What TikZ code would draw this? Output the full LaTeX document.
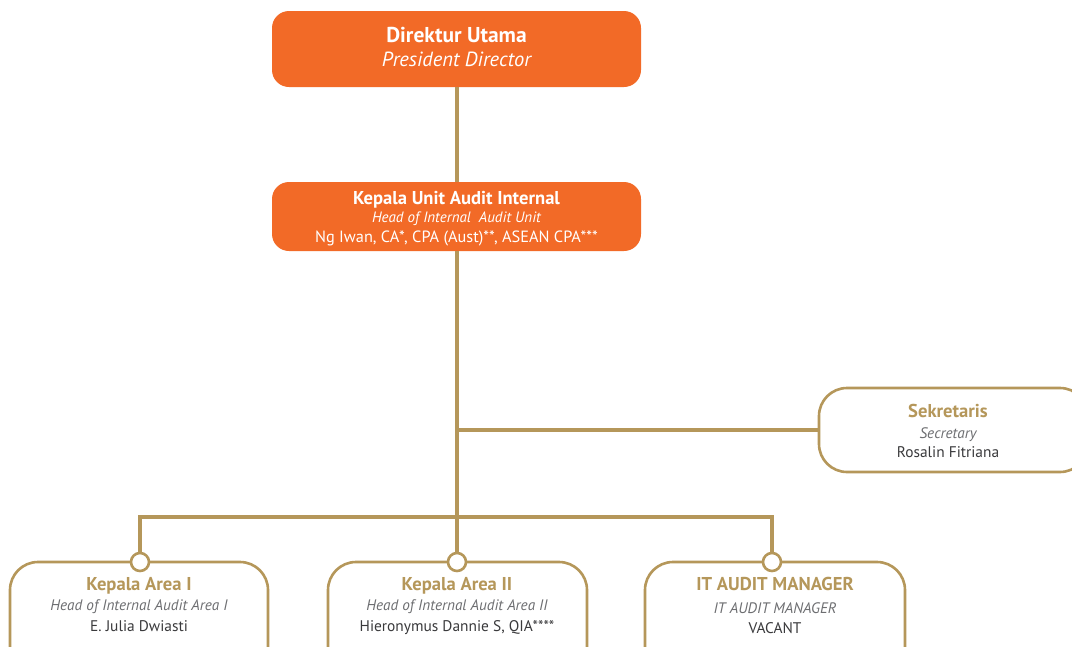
\documentclass[tikz,border=0pt]{standalone}
\usepackage{fontspec}
\setmainfont{PT Sans}
\definecolor{orgorange}{HTML}{F26A27}
\definecolor{orggold}{HTML}{B5975A}
\definecolor{orggray}{HTML}{6D6E71}
\definecolor{orgdark}{HTML}{3A3A3C}
\tikzset{
  x=1pt, y=-1pt,
  headbox/.style={fill=orgorange, rounded corners=17pt},
  unitbox/.style={draw=orggold, line width=2.6pt, fill=white, rounded corners=28pt},
  link/.style={draw=orggold, line width=4.6pt},
  joint/.style={circle, draw=orggold, line width=2.6pt, fill=white, minimum size=18pt, inner sep=0pt},
  ttl/.style={font=\bfseries\fontsize{18.6}{20}\selectfont, text=orggold, anchor=base},
  sub/.style={font=\itshape\fontsize{15.2}{17}\selectfont, text=orggray, anchor=base},
  nm/.style={font=\fontsize{15.4}{17}\selectfont, text=orgdark, anchor=base},
  whitettl/.style={font=\bfseries\fontsize{18.6}{20}\selectfont, text=white, anchor=base},
}
\begin{document}
\begin{tikzpicture}
\useasboundingbox (0,0) rectangle (1072,646);
\clip (0,0) rectangle (1072,646);

% junction points of the connector tree
\coordinate (busL) at (140,517);
\coordinate (busR) at (772,517);
\coordinate (busM) at (457,517);
\coordinate (secJ) at (457,430);

% orange boxes
\fill[headbox] (272,11) rectangle (641,87);
\fill[headbox] (272,182) rectangle (641,251);

% connectors
\draw[link] (457,87) -- (457,182);
\draw[link] (457,251) -- (busM);
\draw[link] (secJ) -- (819,430);
\draw[link] (140,519) -- (busL) -- (busR) -- (772,519);
\draw[link] (busL) -- (140,562);
\draw[link] (busM) -- (457,562);
\draw[link] (busR) -- (772,562);

% secretary
\draw[unitbox] (819,388) rectangle (1088,472);
\node[ttl] (sekT) at (948,417) {Sekretaris};
\node[sub] (sekS) at (948,438) {Secretary};
\node[nm]  (sekN) at (948,457) {Rosalin Fitriana};

% bottom boxes
\draw[unitbox] (10,562) rectangle (268,690);
\draw[unitbox] (328,562) rectangle (587,690);
\draw[unitbox] (645,562) rectangle (905,690);

\node[joint] (j1) at (140,562) {};
\node[joint] (j2) at (457,562) {};
\node[joint] (j3) at (772,562) {};

% texts in the orange boxes
\node[font=\bfseries\fontsize{21.5}{23}\selectfont, text=white, anchor=base] (dirT) at (456.5,42) {Direktur Utama};
\node[font=\itshape\fontsize{20.5}{22}\selectfont, text=white, anchor=base] (dirS) at (456.5,66) {President Director};

\node[whitettl] (headT) at (456.5,204) {Kepala Unit Audit Internal};
\node[font=\itshape\fontsize{15}{17}\selectfont, text=white, anchor=base] (headS) at (456.5,222) {Head of Internal\ \ Audit Unit};
\node[font=\fontsize{16.3}{18}\selectfont, text=white, anchor=base] (headN) at (456.5,242) {Ng Iwan, CA*, CPA (Aust)**, ASEAN CPA***};

% texts in the bottom boxes
\node[ttl] (a1T) at (139,590) {Kepala Area I};
\node[sub] (a1S) at (139,610) {Head of Internal Audit Area I};
\node[nm]  (a1N) at (139,631) {E. Julia Dwiasti};

\node[ttl] (a2T) at (457,590) {Kepala Area II};
\node[sub] (a2S) at (457,610) {Head of Internal Audit Area II};
\node[nm]  (a2N) at (457,631) {Hieronymus Dannie S, QIA****};

\node[ttl] (a3T) at (775,590) {IT AUDIT MANAGER};
\node[sub] (a3S) at (775,613) {IT AUDIT MANAGER};
\node[nm]  (a3N) at (775,633) {VACANT};
\end{tikzpicture}
\end{document}
